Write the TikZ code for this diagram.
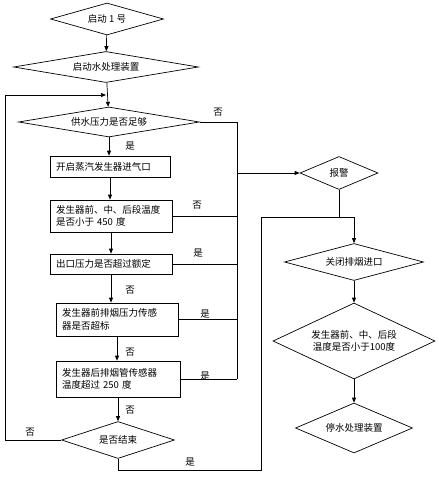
\documentclass[tikz,border=0pt]{standalone}
\usepackage{fontspec}
\usetikzlibrary{positioning, shapes.geometric, arrows.meta, calc}
\newfontfamily\cjk{Noto Sans CJK SC}

\tikzset{
  dia/.style={diamond, draw, inner sep=0pt, align=center},
  box/.style={rectangle, draw, inner xsep=6pt, inner ysep=0pt, align=left},
  arr/.style={-{Triangle[length=5pt, width=4pt]}},
  lbl/.style={inner sep=0pt}
}

\begin{document}
\begin{tikzpicture}[x=1pt, y=-1pt, line width=0.7pt,
    font=\cjk\fontsize{9.5}{12.5}\selectfont]
  \useasboundingbox (0,0) rectangle (439,482);

  % left column
  \node[dia, minimum width=113pt, minimum height=32pt, shape aspect=3.5] (start) at (107,19) {启动 1 号};
  \node[dia, minimum width=185pt, minimum height=31pt, shape aspect=6] (water) at (106,67) {启动水处理装置};
  \node[dia, minimum width=181pt, minimum height=30pt, shape aspect=6] (supply) at (109,122) {供水压力是否足够};
  \node[box, text width=108pt, minimum height=21pt] (open) at (110,166.5) {开启蒸汽发生器进气口};
  \node[box, text width=110pt, minimum height=32pt] (tfront) at (111,216) {发生器前、中、后段温度\\是否小于 450 度};
  \node[box, text width=110pt, minimum height=20pt] (press) at (111,264) {出口压力是否超过额定};
  \node[box, text width=110pt, minimum height=33pt] (smoke) at (117,319.5) {发生器前排烟压力传感\\器是否超标};
  \node[box, text width=112pt, minimum height=36pt] (pipe) at (118,379) {发生器后排烟管传感器\\温度超过 250 度};
  \node[dia, minimum width=113pt, minimum height=37pt, shape aspect=3] (endq) at (118,440) {是否结束};

  % right column
  \node[dia, minimum width=78pt, minimum height=33pt, shape aspect=2.4] (alarm) at (339,173) {报警};
  \node[dia, minimum width=139pt, minimum height=37pt, shape aspect=3.75] (close) at (354,262) {关闭排烟进口};
  \node[dia, minimum width=162pt, minimum height=76pt, shape aspect=2.1] (tcheck) at (354,341) {发生器前、中、后段\\温度是否小于100度};
  \node[dia, minimum width=117pt, minimum height=50pt, shape aspect=2.3] (stop) at (354,428) {停水处理装置};

  \coordinate (rtop) at (237,122);
  \coordinate (jn) at (261,217);
  \coordinate (lp) at (5,95);

  % main flow
  \draw[arr] (start) -- (water);
  \draw[arr] (water) -- (supply);
  \draw[arr] (supply.south) -- (supply.south |- open.north);
  \draw[arr] (open.south) -- (open.south |- tfront.north);
  \draw[arr] (tfront.south) -- (tfront.south |- press.north);
  \draw[arr] (press.south) -- (press.south |- smoke.north);
  \draw[arr] (smoke.south) -- (smoke.south |- pipe.north);
  \draw[arr] (pipe.south) -- (pipe.south |- endq.north);

  % faults to alarm
  \draw (supply.east) -- (rtop) -- (rtop |- pipe.east);
  \draw (tfront.east) -- (tfront.east -| rtop);
  \draw (press.east) -- (press.east -| rtop);
  \draw (smoke.east) -- (smoke.east -| rtop);
  \draw (pipe.east) -- (pipe.east -| rtop);
  \draw[arr] (alarm.west -| rtop) -- (alarm.west);

  % loop back and shutdown
  \draw[arr] (endq.west) -| (lp) -- (lp -| water.south);
  \draw[arr] (endq.south) -- ++(0,11) -| (jn) -| (close.north);
  \draw (alarm.south) -- (alarm.south |- jn);
  \draw[arr] (close.south) -- (tcheck.north);
  \draw[arr] (tcheck.south) -- (stop.north);

  % labels
  \node[lbl] at (218,112) {否};
  \node[lbl] at (130,146) {是};
  \node[lbl] at (197,205) {否};
  \node[lbl] at (198,253) {是};
  \node[lbl] at (130,290) {否};
  \node[lbl] at (205,314) {是};
  \node[lbl] at (130,352) {否};
  \node[lbl] at (205,376) {是};
  \node[lbl] at (130,410) {否};
  \node[lbl] at (30,432) {否};
  \node[lbl] at (190,462) {是};
\end{tikzpicture}
\end{document}
